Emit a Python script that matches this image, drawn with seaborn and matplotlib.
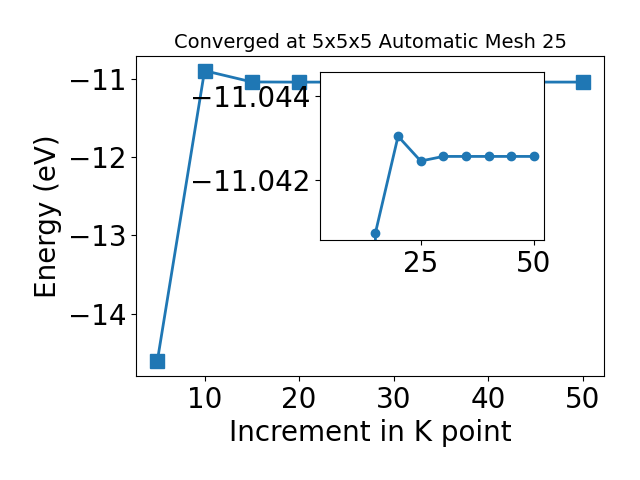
import matplotlib
matplotlib.use("Agg")
import matplotlib.pyplot as plt
import seaborn as sns
import pandas as pd

# Data
kpoints = [5, 10, 15, 20, 25, 30, 35, 40, 45, 50]
energies = [-14.61, -10.897, -11.04074, -11.04304, -11.04245,
            -11.04256, -11.04256, -11.04256, -11.04256, -11.04256]
title = "Converged at 5x5x5 Automatic Mesh 25"
xlabel = "Increment in K point"
ylabel = "Energy (eV)"
inset_xticks = [25, 50]
inset_yticks = [-11.044, -11.042]
inset_ylim = (-11.04057, -11.04457)  # inverted, as in the reference

df = pd.DataFrame({"k": kpoints, "E": energies})
df_in = df.iloc[1:]

color = "#1f77b4"
fig = plt.figure(figsize=(6.4, 4.8), dpi=100)
ax = fig.add_axes([0.2125, 0.217, 0.7315, 0.666])

sns.lineplot(data=df, x="k", y="E", ax=ax, color=color, marker="s",
             markersize=10, linewidth=2, markeredgecolor=color,
             markeredgewidth=1)
ax.set_title(title, fontsize=14)
ax.set_xlabel(xlabel, fontsize=20)
ax.set_ylabel(ylabel, fontsize=20)
ax.tick_params(labelsize=20)
ax.set_xticks([10, 20, 30, 40, 50])
ax.set_yticks([-11, -12, -13, -14])

axin = fig.add_axes([0.5, 0.5, 0.35, 0.35])
sns.lineplot(data=df_in, x="k", y="E", ax=axin, color=color, marker="o",
             markersize=6, linewidth=2, markeredgecolor=color,
             markeredgewidth=1)
axin.set_xlim(ax.get_xlim())
axin.set_ylim(*inset_ylim)
axin.set_xticks(inset_xticks)
axin.set_yticks(inset_yticks)
axin.ticklabel_format(axis="y", useOffset=False, style="plain")
axin.tick_params(labelsize=20)
axin.set_xlabel("")
axin.set_ylabel("")

fig.savefig("out.png", dpi=100)
